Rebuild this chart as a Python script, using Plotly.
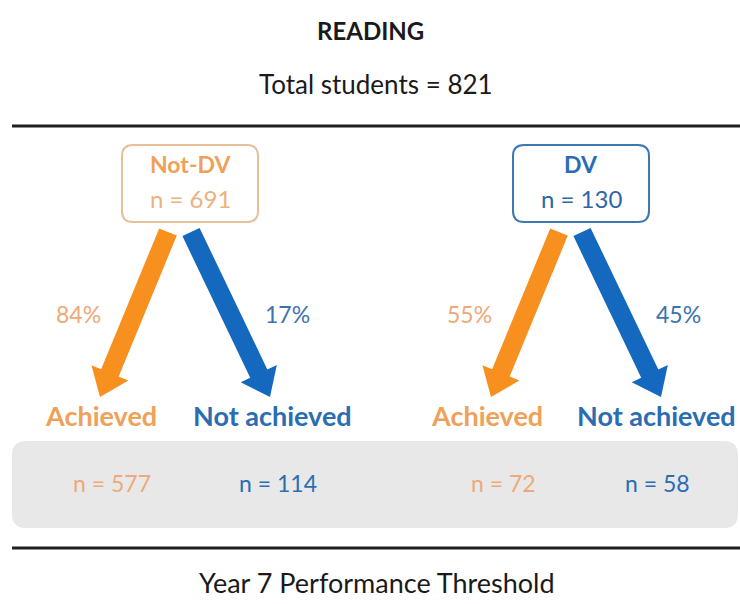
import math
import plotly.graph_objects as go

# data
title = "READING"
total_students = 821
subtitle = "Year 7 Performance Threshold"
groups = ["Not-DV", "DV"]
group_n = [691, 130]
pct_achieved = [84, 55]
pct_not_achieved = [17, 45]
n_achieved = [577, 72]
n_not_achieved = [114, 58]
outcomes = ["Achieved", "Not achieved"]

# colours
ORANGE = "#F7901E"
BLUE = "#1469BF"
ORANGE_TXT = "#EFA159"
BLUE_TXT = "#2A6DB2"
ORANGE_SOFT = "#EDAA78"
BLUE_SOFT = "#3B73AE"
FONT = "Lato, 'Open Sans', sans-serif"

# layout (page pixel space, y grows downward)
W, H = 740, 604
group_cx = [190, 581]
box_w, box_h, box_top = 136, 77, 145
arrow_top_y = 232
arrow_tip_y = 397
arrow_spread = [(-22, -90), (1, 80)]  # (top dx, tip dx) from group centre
outcome_x = [[101, 272], [487, 656]]
pct_x = [[78, 287], [469, 678]]
n_x = [[112, 278], [503, 657]]
label_y = 415
pct_y = 314
band_y0, band_y1 = 441, 528
n_y = 483


def rounded_rect(x0, y0, x1, y1, r):
    return (f"M {x0 + r},{y0} L {x1 - r},{y0} Q {x1},{y0} {x1},{y0 + r} "
            f"L {x1},{y1 - r} Q {x1},{y1} {x1 - r},{y1} L {x0 + r},{y1} "
            f"Q {x0},{y1} {x0},{y1 - r} L {x0},{y0 + r} Q {x0},{y0} {x0 + r},{y0} Z")


def arrow_poly(x0, y0, x1, y1, shaft=19, head_w=40, head_l=26):
    dx, dy = x1 - x0, y1 - y0
    L = math.hypot(dx, dy)
    ux, uy = dx / L, dy / L
    px, py = -uy, ux
    bx, by = x1 - ux * head_l, y1 - uy * head_l
    s, h = shaft / 2, head_w / 2
    pts = [
        (x0 + px * s, y0 + py * s),
        (bx + px * s, by + py * s),
        (bx + px * h, by + py * h),
        (x1, y1),
        (bx - px * h, by - py * h),
        (bx - px * s, by - py * s),
        (x0 - px * s, y0 - py * s),
    ]
    xs = [p[0] for p in pts] + [pts[0][0]]
    ys = [p[1] for p in pts] + [pts[0][1]]
    return xs, ys


fig = go.Figure()
shapes = []
annotations = []


def add_text(x, y, text, size, color, bold=False):
    annotations.append(dict(
        x=x, y=y, xref="x", yref="y", showarrow=False,
        text=f"<b>{text}</b>" if bold else text,
        font=dict(family=FONT, size=size, color=color),
        xanchor="center", yanchor="middle",
    ))


add_text(370, 30, title, 24, "#1a1a1a", bold=True)
add_text(376, 84, f"Total students = {total_students}", 26, "#1a1a1a")
add_text(377, 582, subtitle, 27, "#1a1a1a")

# horizontal rules
for y in (126, 548):
    shapes.append(dict(type="line", xref="x", yref="y", x0=12, x1=740, y0=y, y1=y,
                       line=dict(color="#1f1f1f", width=3)))

# grey band for counts
shapes.append(dict(type="path", xref="x", yref="y",
                   path=rounded_rect(12, band_y0, 738, band_y1, 14),
                   fillcolor="#E8E8E8", line=dict(width=0)))

box_colors = ["#E9BF98", "#3D78B2"]
title_colors = [ORANGE_TXT, BLUE_TXT]
n_colors = ["#EBB17E", "#2F67A3"]

for i, g in enumerate(groups):
    cx = group_cx[i]
    shapes.append(dict(type="path", xref="x", yref="y",
                       path=rounded_rect(cx - box_w / 2, box_top, cx + box_w / 2, box_top + box_h, 11),
                       fillcolor="white", line=dict(color=box_colors[i], width=2)))
    add_text(cx, box_top + 19, g, 23, title_colors[i], bold=True)
    add_text(cx, box_top + 53, f"n = {group_n[i]}", 24, n_colors[i])

    pcts = [pct_achieved[i], pct_not_achieved[i]]
    counts = [n_achieved[i], n_not_achieved[i]]
    arrow_cols = [ORANGE, BLUE]
    txt_cols = [ORANGE_TXT, BLUE_TXT]
    pct_cols = [ORANGE_SOFT, BLUE_SOFT]
    for k in range(2):
        top_dx, tip_dx = arrow_spread[k]
        xs, ys = arrow_poly(cx + top_dx, arrow_top_y, cx + tip_dx, arrow_tip_y)
        fig.add_trace(go.Scatter(x=xs, y=ys, mode="lines", fill="toself",
                                 fillcolor=arrow_cols[k], line=dict(width=0),
                                 hoverinfo="skip", showlegend=False))
        add_text(outcome_x[i][k], label_y, outcomes[k], 27, txt_cols[k], bold=True)
        add_text(pct_x[i][k], pct_y, f"{pcts[k]}%", 23, pct_cols[k])
        add_text(n_x[i][k], n_y, f"n = {counts[k]}", 23, pct_cols[k] if k == 0 else BLUE_TXT)

fig.update_layout(
    width=W, height=H,
    margin=dict(l=0, r=0, t=0, b=0),
    paper_bgcolor="white", plot_bgcolor="white",
    xaxis=dict(range=[0, W], visible=False, fixedrange=True),
    yaxis=dict(range=[H, 0], visible=False, fixedrange=True),
    shapes=shapes,
    annotations=annotations,
    showlegend=False,
)

# drop the default 8px body margin so the figure fills the window
fig.write_html("out.html",
               config={"displayModeBar": False},
               post_script="document.body.style.margin='0';document.body.style.overflow='hidden';")
